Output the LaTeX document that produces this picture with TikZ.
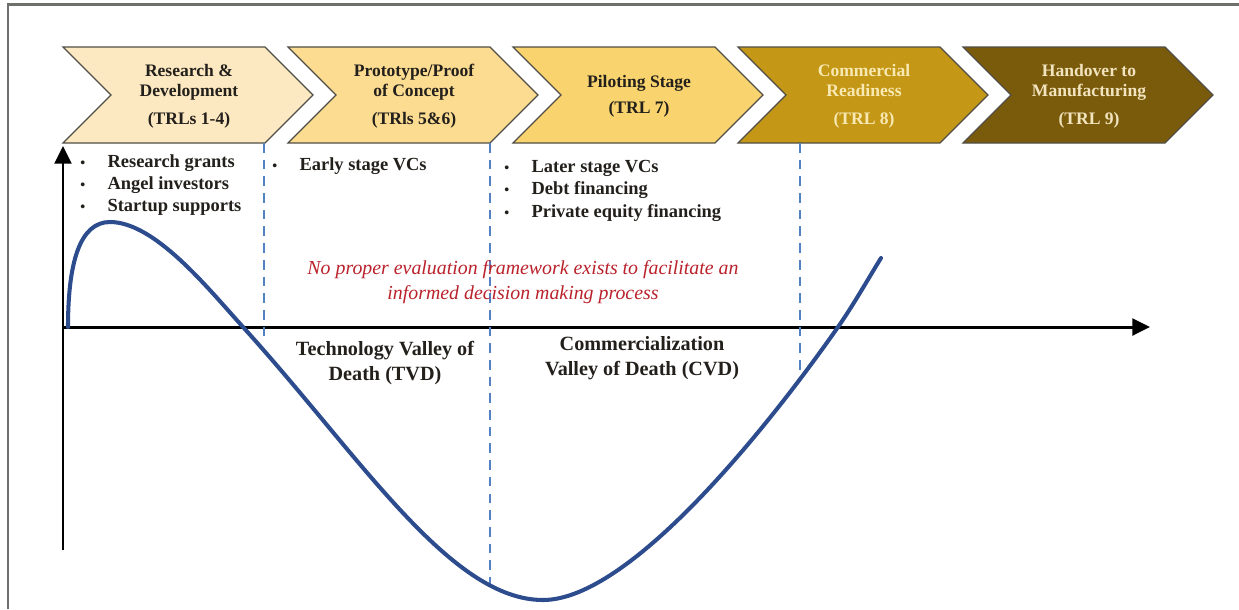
\documentclass[tikz,border=0pt]{standalone}
\usepackage{fontspec}
\setmainfont{Liberation Serif}
\usetikzlibrary{arrows.meta}

% palette
\definecolor{chevA}{RGB}{252,233,193}
\definecolor{chevB}{RGB}{251,220,145}
\definecolor{chevC}{RGB}{249,212,110}
\definecolor{chevD}{RGB}{196,152,22}
\definecolor{chevE}{RGB}{122,91,12}
\definecolor{chevedge}{RGB}{80,78,70}
\definecolor{darkink}{RGB}{35,32,28}
\definecolor{paleink}{RGB}{248,232,178}
\definecolor{paleinkB}{RGB}{242,228,190}
\definecolor{warnred}{RGB}{186,34,44}
\definecolor{curveblue}{RGB}{45,76,142}
\definecolor{dashblue}{RGB}{84,128,196}
\definecolor{framegray}{RGB}{110,112,108}

\newcommand{\bul}{\makebox[15.5pt][l]{\fontsize{8}{8}\selectfont\textbullet}}

\begin{document}
\begin{tikzpicture}[x=0.02cm,y=-0.02cm,
  chevline/.style={draw=chevedge, line width=0.7pt, line join=miter},
  headtext/.style={font=\fontsize{10}{11.5}\selectfont\bfseries, align=center, inner sep=0pt},
  item/.style={font=\fontsize{10.5}{12}\selectfont\bfseries, anchor=west, inner sep=0pt,
               text height=7.5pt, text depth=2.5pt, text=darkink},
  valley/.style={font=\fontsize{11.5}{14.5}\selectfont\bfseries, align=center, inner sep=0pt, text=darkink},
  warn/.style={font=\fontsize{11.3}{14.3}\selectfont\itshape, align=center, inner sep=0pt, text=warnred},
  axis/.style={line width=1.7pt, -{Triangle[length=10pt,width=9.5pt]}},
  gap/.style={draw=dashblue, line width=1.1pt, dash pattern=on 5.5pt off 4pt},
  curve/.style={draw=curveblue, line width=2.3pt, line cap=round}
]
\useasboundingbox (0,0) rectangle (1239,609);
\fill[white] (0,0) rectangle (1239,609);

% outer frame (top and left edges)
\draw[framegray, line width=1.6pt] (8,609) -- (8,4.5) -- (1239,4.5);

% stage chevrons with their captions
\foreach \L/\fc/\tc/\nm/\txt in {
   63/chevA/darkink/rd/{Research \&\\Development\\[4.5pt](TRLs 1-4)},
  288/chevB/darkink/poc/{Prototype/Proof\\of Concept\\[4.5pt](TRls 5\&6)},
  513/chevC/darkink/pilot/{Piloting Stage\\[3.5pt](TRL 7)},
  738/chevD/paleink/comm/{Commercial\\Readiness\\[4.5pt](TRL 8)},
  963/chevE/paleinkB/hand/{Handover to\\Manufacturing\\[4.5pt](TRL 9)}}
{
  \draw[chevline, fill=\fc] (\L,47) -- (\L+202,47) -- (\L+250,95) -- (\L+202,143)
        -- (\L,143) -- (\L+48,95) -- cycle;
  \node[headtext, text=\tc] (\nm) at (\L+126,96) {\txt};
}

% axes
\coordinate (vbot) at (63,550);
\coordinate (vtop) at (63,146);
\coordinate (origin) at (63,327);
\coordinate (hend) at (1150,327);
\draw[axis] (vbot) -- (vtop);
\draw[axis] (origin) -- (hend);

% funding-gap boundaries
\coordinate (g1a) at (264,143);
\coordinate (g1b) at (264,338);
\coordinate (g2a) at (490,143);
\coordinate (g2b) at (490,584);
\coordinate (g3a) at (800,143);
\coordinate (g3b) at (800,375);
\draw[gap] (g1a) -- (g1b);
\draw[gap] (g2a) -- (g2b);
\draw[gap] (g3a) -- (g3b);

% value curve through the two valleys of death
\coordinate (cstart) at (68,327);
\coordinate (cpeak) at (110,222);
\coordinate (cx1) at (243,327);
\coordinate (cmin) at (543,600);
\coordinate (cx2) at (838,327);
\coordinate (cend) at (881,258);
\draw[curve] (cstart) .. controls (68,262) and (80,222) .. (cpeak)
  .. controls (155,222) and (208,288.5) .. (cx1)
  .. controls (360,456) and (450,600) .. (cmin)
  .. controls (630,600) and (768,427) .. (cx2)
  .. controls (853,305.6) and (868,279) .. (cend);

% funding sources
\node[item] (s1) at (80,163) {\bul Research grants};
\node[item] (s2) at (80,185) {\bul Angel investors};
\node[item] (s3) at (80,207) {\bul Startup supports};
\node[item] (s4) at (272,166) {\bul Early stage VCs};
\node[item] (s5) at (504,168) {\bul Later stage VCs};
\node[item] (s6) at (504,190) {\bul Debt financing};
\node[item] (s7) at (504,213) {\bul Private equity financing};

% annotations
\node[warn] (note) at (523,282) {No proper evaluation framework exists to facilitate an\\informed decision making process};
\node[valley] (tvd) at (385,363) {Technology Valley of\\Death (TVD)};
\node[valley] (cvd) at (642,358) {Commercialization\\Valley of Death (CVD)};
\end{tikzpicture}
\end{document}
